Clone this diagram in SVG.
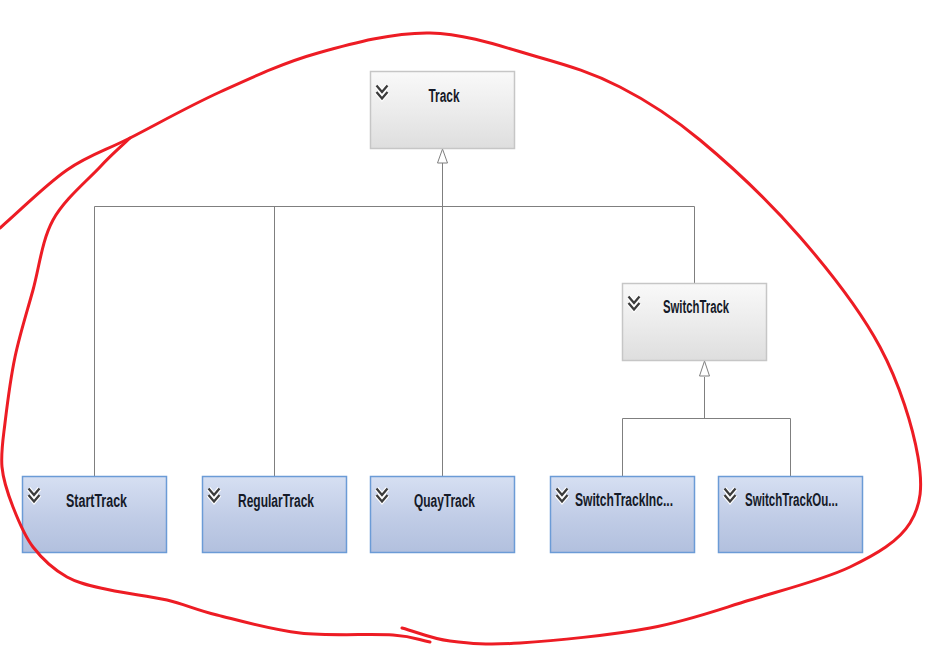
<svg xmlns="http://www.w3.org/2000/svg" width="936" height="646" viewBox="0 0 936 646">
<style>
.gray{fill:url(#gGray);stroke:#c6c6c6;stroke-width:1.5}
.blue{fill:url(#gBlue);stroke:#6b9bd6;stroke-width:1.5}
.lbl{font-family:"Liberation Sans",Arial,sans-serif;font-weight:bold;font-size:17.5px;fill:#151a28;text-anchor:middle}
.chev-halo{fill:none;stroke:#ffffff;stroke-width:4.5;stroke-linejoin:miter}
.chev{fill:none;stroke:#3c3c3c;stroke-width:2.3;stroke-linejoin:miter}
.conn{fill:none;stroke:#7f7f7f;stroke-width:1}
.head{fill:#ffffff;stroke:#7f7f7f;stroke-width:1}
.ink{fill:none;stroke:#ed1c24;stroke-width:3;stroke-linecap:round;stroke-linejoin:round}
</style>
<defs>
<linearGradient id="gGray" x1="0" y1="0" x2="0" y2="1">
<stop offset="0" stop-color="#f9f9f9"/>
<stop offset="0.5" stop-color="#ececec"/>
<stop offset="1" stop-color="#dedede"/>
</linearGradient>
<linearGradient id="gBlue" x1="0" y1="0" x2="0" y2="1">
<stop offset="0" stop-color="#d6dff2"/>
<stop offset="0.55" stop-color="#c0cce6"/>
<stop offset="1" stop-color="#b2c0de"/>
</linearGradient>
<g id="chevron">
<path class="chev-halo" d="M0,0 L5.5,6.5 L11,0 M0,6.5 L5.5,13 L11,6.5"/>
<path class="chev" d="M0,0 L5.5,6.5 L11,0 M0,6.5 L5.5,13 L11,6.5"/>
</g>
</defs>
<rect width="936" height="646" fill="#ffffff"/>

<g id="connectors">
<path class="conn" d="M442.5,163 V476"/>
<path class="conn" d="M94.5,206.5 H694.5"/>
<path class="conn" d="M94.5,206.5 V476"/>
<path class="conn" d="M274.5,206.5 V476"/>
<path class="conn" d="M694.5,206.5 V283"/>
<polygon class="head" points="442.5,149 437.5,163 447.5,163"/>
<path class="conn" d="M704.5,377 V418.5"/>
<path class="conn" d="M622.5,418.5 H790.5"/>
<path class="conn" d="M622.5,418.5 V476"/>
<path class="conn" d="M790.5,418.5 V476"/>
<polygon class="head" points="704.5,361 699.5,376 709.5,376"/>
</g>

<g id="Track">
<rect class="gray" x="370.5" y="71.5" width="144" height="77"/>
<use href="#chevron" x="376.5" y="85.5"/>
<text class="lbl" x="444" y="101.5" textLength="31" lengthAdjust="spacingAndGlyphs">Track</text>
</g>
<g id="SwitchTrack">
<rect class="gray" x="622.5" y="283.5" width="144" height="77"/>
<use href="#chevron" x="628.5" y="296.5"/>
<text class="lbl" x="696" y="312.5" textLength="66" lengthAdjust="spacingAndGlyphs">SwitchTrack</text>
</g>
<g id="StartTrack">
<rect class="blue" x="22.5" y="476.5" width="144" height="76"/>
<use href="#chevron" x="28.5" y="488.5"/>
<text class="lbl" x="96.5" y="506.5" textLength="61" lengthAdjust="spacingAndGlyphs">StartTrack</text>
</g>
<g id="RegularTrack">
<rect class="blue" x="202.5" y="476.5" width="144" height="76"/>
<use href="#chevron" x="208.5" y="488.5"/>
<text class="lbl" x="276" y="506.5" textLength="76" lengthAdjust="spacingAndGlyphs">RegularTrack</text>
</g>
<g id="QuayTrack">
<rect class="blue" x="370.5" y="476.5" width="144" height="76"/>
<use href="#chevron" x="376.5" y="488.5"/>
<text class="lbl" x="444.5" y="506.5" textLength="61" lengthAdjust="spacingAndGlyphs">QuayTrack</text>
</g>
<g id="SwitchTrackIncoming">
<rect class="blue" x="550.5" y="476.5" width="144" height="76"/>
<use href="#chevron" x="556.5" y="488.5"/>
<text class="lbl" x="624" y="505.5" textLength="98" lengthAdjust="spacingAndGlyphs">SwitchTrackInc...</text>
</g>
<g id="SwitchTrackOutgoing">
<rect class="blue" x="718.5" y="476.5" width="144" height="76"/>
<use href="#chevron" x="724.5" y="488.5"/>
<text class="lbl" x="791.5" y="505.5" textLength="93" lengthAdjust="spacingAndGlyphs">SwitchTrackOu...</text>
</g>

<g id="annotation">
<path class="ink" d="M0,228 C22.3,208.7 45.3,185 67,170 C88.7,155 104.5,151 130,138 C155.5,125 188.7,106.2 220,92 C251.3,77.8 283,62.8 318,53 C353,43.2 393.3,32.3 430,33 C466.7,33.7 506.3,48 538,57 C569.7,66 593,73.2 620,87 C647,100.8 670,115 700,140 C730,165 770,202.5 800,237 C830,271.5 860.3,310.3 880,347 C899.7,383.7 913,427.7 918,457 C923,486.3 921.3,504.7 910,523 C898.7,541.3 876.7,554.2 850,567 C823.3,579.8 783.3,589.8 750,600 C716.7,610.2 688.3,620.8 650,628 C611.7,635.2 553.3,640.8 520,643 C486.7,645.2 469.7,643.5 450,641 C430.3,638.5 418,632.3 402,628"/>
<path class="ink" d="M430,642 C417.7,639.7 414.7,636.5 393,635 C371.3,633.5 329.3,636.3 300,633 C270.7,629.7 239.2,620.5 217,615 C194.8,609.5 184.8,604.2 167,600 C149.2,595.8 126.7,593.8 110,590 C93.3,586.2 79.8,584.2 67,577 C54.2,569.8 42,558.7 33,547 C24,535.3 18.2,520.3 13,507 C7.8,493.7 3.3,481 2,467 C0.7,453 2.8,441.3 5,423 C7.2,404.7 10.3,379.2 15,357 C19.7,334.8 26.7,312.8 33,290 C39.3,267.2 41.8,240.5 53,220 C64.2,199.5 87.2,180.7 100,167 C112.8,153.3 120,147.7 130,138"/>
</g>
</svg>
